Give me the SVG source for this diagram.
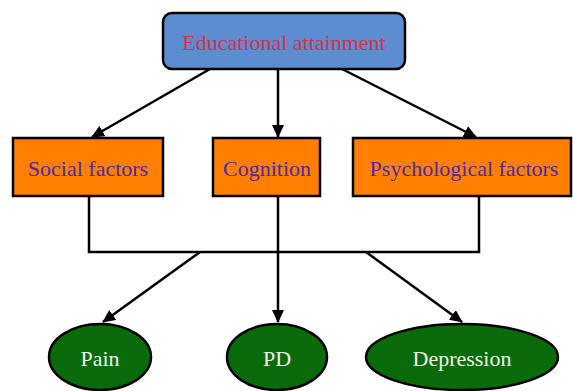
<svg xmlns="http://www.w3.org/2000/svg" width="573" height="391" viewBox="0 0 573 391">
<style>
  .box{stroke:#000;stroke-width:2.5}
  .t{font-family:'Liberation Serif','DejaVu Serif',serif;font-size:22px;text-anchor:middle}
  .ln{stroke:#000;stroke-width:2.5;fill:none}
</style>
<defs>
  <marker id="ah" markerWidth="13" markerHeight="12" refX="12" refY="6" orient="auto" markerUnits="userSpaceOnUse" viewBox="0 0 13 12">
    <path d="M0,0 L13,6 L0,12 z" fill="#000"/>
  </marker>
</defs>
<rect width="573" height="391" fill="#fff"/>
<g id="connectors">
  <line class="ln" x1="210" y1="69" x2="92" y2="137" marker-end="url(#ah)"/>
  <line class="ln" x1="278" y1="69" x2="278" y2="137" marker-end="url(#ah)"/>
  <line class="ln" x1="342" y1="69" x2="476" y2="137" marker-end="url(#ah)"/>
  <polyline class="ln" points="89,196 89,252 479,252 479,196"/>
  <line class="ln" x1="278" y1="196" x2="278" y2="322" marker-end="url(#ah)"/>
  <line class="ln" x1="200" y1="252" x2="103" y2="322" marker-end="url(#ah)"/>
  <line class="ln" x1="366" y1="252" x2="462" y2="322" marker-end="url(#ah)"/>
</g>
<g id="educational-attainment">
  <rect class="box" x="163" y="13" width="242" height="56" rx="9" fill="#5b8dd0"/>
  <text class="t" x="284" y="50" fill="#d8304a">Educational attainment</text>
</g>
<g id="social-factors">
  <rect class="box" x="13" y="138" width="150" height="58" fill="#ff8000"/>
  <text class="t" x="88" y="176" fill="#4b2aa8">Social factors</text>
</g>
<g id="cognition">
  <rect class="box" x="213" y="138" width="107" height="58" fill="#ff8000"/>
  <text class="t" x="267" y="176" fill="#4b2aa8">Cognition</text>
</g>
<g id="psychological-factors">
  <rect class="box" x="353" y="138" width="218" height="58" fill="#ff8000"/>
  <text class="t" x="464" y="176" fill="#4b2aa8">Psychological factors</text>
</g>
<g id="pain">
  <ellipse class="box" cx="100" cy="357" rx="51" ry="33" fill="#0a6b0a"/>
  <text class="t" x="100" y="366" fill="#eef4e6">Pain</text>
</g>
<g id="pd">
  <ellipse class="box" cx="277" cy="357" rx="50" ry="33" fill="#0a6b0a"/>
  <text class="t" x="277" y="366" fill="#eef4e6">PD</text>
</g>
<g id="depression">
  <ellipse class="box" cx="462" cy="357" rx="96" ry="33" fill="#0a6b0a"/>
  <text class="t" x="462" y="366" fill="#eef4e6">Depression</text>
</g>
</svg>
